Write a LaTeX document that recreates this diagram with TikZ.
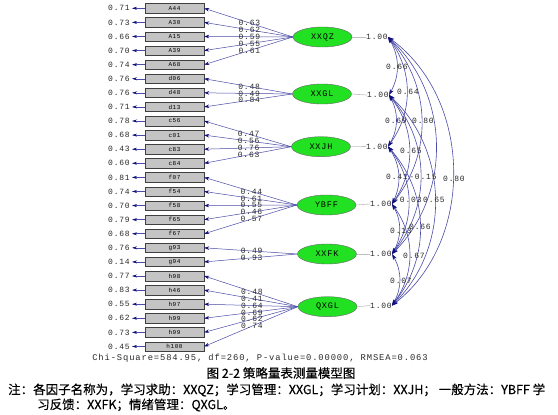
\documentclass[tikz,border=0pt]{standalone}
\usepackage{fontspec}
\newfontfamily\numfont[LetterSpace=10]{Liberation Mono}
\newfontfamily\cjkfont[FakeBold=0.3]{Noto Sans CJK SC}
\usetikzlibrary{arrows.meta,shapes.geometric}
\definecolor{linecol}{HTML}{4A4AA8}
\definecolor{headcol}{HTML}{101080}
\definecolor{txtcol}{HTML}{2A2A2A}
\definecolor{boxfill}{HTML}{C4C4C4}
\definecolor{ellfill}{HTML}{22E022}
\begin{document}
\begin{tikzpicture}[x=1pt,y=-1pt,
  obsbox/.style={draw=black!75, fill=boxfill, minimum width=59pt, minimum height=9.5pt, inner sep=0pt, font=\numfont\fontsize{6}{6}\selectfont},
  latent/.style={ellipse, draw=black!60, fill=ellfill, minimum width=59pt, minimum height=20pt, inner sep=0pt, font=\numfont\fontsize{8.5}{9}\selectfont},
  num/.style={text=txtcol, inner sep=0pt, font=\numfont\fontsize{8}{9}\selectfont},
  errarrow/.style={draw=linecol, line width=0.5pt, shorten >=2pt, -{Stealth[length=5pt,width=3pt,color=headcol]}},
  load/.style={draw=linecol, line width=0.5pt, -{Stealth[length=5pt,width=3.5pt,color=headcol]}},
  varline/.style={draw=gray!50, line width=0.6pt},
  cov/.style={draw=linecol, line width=0.6pt, >={Stealth[length=6pt,width=4pt,color=headcol]}, <->},
]
\useasboundingbox[fill=white] (0,0) rectangle (558,415);

% observed variables and error variances
\foreach \lab/\err [count=\i from 0] in {A44/0.71,A30/0.73,A15/0.66,A39/0.70,A68/0.74,d06/0.76,d48/0.76,d13/0.71,c56/0.78,c01/0.68,c83/0.43,c84/0.60,f07/0.81,f54/0.74,f58/0.70,f65/0.79,f67/0.68,g93/0.76,g94/0.14,h98/0.77,h46/0.83,h97/0.55,h99/0.62,h99/0.73,h100/0.45} {
  \pgfmathsetmacro\yy{8.3+14.09*\i}
  \node[obsbox] (b\i) at (174.5,\yy) {\lab};
  \node[num] (e\i) at (119,\yy) {\err};
  \draw[errarrow] (b\i.west) -- (e\i.east);
}

% latent variables
\node[latent] (QZ) at (322.5,37) {XXQZ};
\node[latent] (GL) at (322,94) {XXGL};
\node[latent] (JH) at (321,146.7) {XXJH};
\node[latent] (BF) at (326.5,205) {YBFF};
\node[latent] (FK) at (327,254) {XXFK};
\node[latent] (QX) at (327.5,306.7) {QXGL};

% loadings
\foreach \k/\v in {0/0.63,1/0.62,2/0.59,3/0.55,4/0.61}
  \draw[load] (QZ.west) -- node[num,pos=0.49]{\v} (b\k.east);
\foreach \k/\v in {5/0.48,6/0.49,7/0.84}
  \draw[load] (GL.west) -- node[num,pos=0.49]{\v} (b\k.east);
\foreach \k/\v in {8/0.47,9/0.56,10/0.76,11/0.63}
  \draw[load] (JH.west) -- node[num,pos=0.49]{\v} (b\k.east);
\foreach \k/\v in {12/0.44,13/0.61,14/0.55,15/0.46,16/0.57}
  \draw[load] (BF.west) -- node[num,pos=0.49]{\v} (b\k.east);
\foreach \k/\v in {17/0.49,18/0.93}
  \draw[load] (FK.west) -- node[num,pos=0.49]{\v} (b\k.east);
\foreach \k/\v in {19/0.48,20/0.41,21/0.64,22/0.69,23/0.62,24/0.74}
  \draw[load] (QX.west) -- node[num,pos=0.49]{\v} (b\k.east);

% factor variances
\node[num] (vQZ) at (377,37) {1.00};
\node[num] (vGL) at (378,95) {1.00};
\node[num] (vJH) at (377,146.5) {1.00};
\node[num] (vBF) at (381,204) {1.00};
\node[num] (vFK) at (381,254) {1.00};
\node[num] (vQX) at (381,305.5) {1.00};
\foreach \f in {QZ,GL,JH,BF,FK,QX}
  \draw[varline] (\f.east) -- (v\f.west);

% covariances
\draw[cov] (vQZ.east) to[bend left=30] (vGL.east);
\draw[cov] (vGL.east) to[bend left=30] (vJH.east);
\draw[cov] (vJH.east) to[bend left=30] (vBF.east);
\draw[cov] (vBF.east) to[bend left=30] (vFK.east);
\draw[cov] (vFK.east) to[bend left=30] (vQX.east);
\draw[cov] (vQZ.east) to[bend left=36] (vJH.east);
\draw[cov] (vGL.east) to[bend left=36] (vBF.east);
\draw[cov] (vJH.east) to[bend left=36] (vFK.east);
\draw[cov] (vBF.east) to[bend left=36] (vQX.east);
\draw[cov] (vQZ.east) to[bend left=40] (vBF.east);
\draw[cov] (vGL.east) to[bend left=40] (vFK.east);
\draw[cov] (vJH.east) to[bend left=40] (vQX.east);
\draw[cov] (vQZ.east) to[bend left=46] (vFK.east);
\draw[cov] (vGL.east) to[bend left=46] (vQX.east);
\draw[cov] (vQZ.east) to[bend left=53] (vQX.east);

% covariance values
\node[num] (c1) at (397,67) {0.66};
\node[num] (c2) at (408,92) {0.64};
\node[num] (c3) at (396,121) {0.69};
\node[num] (c4) at (423,121) {0.80};
\node[num] (c5) at (411,151) {0.65};
\node[num] (c6) at (397,177) {0.41};
\node[num] (c7) at (423,177) {-0.15};
\node[num] (c8) at (454,179) {0.80};
\node[num] (c9) at (408,200) {-0.03};
\node[num] (c10) at (434,200) {0.65};
\node[num] (c11) at (401,231) {0.13};
\node[num] (c12) at (420,227) {0.66};
\node[num] (c13) at (414,256) {0.67};
\node[num] (c14) at (401,281) {0.07};

% fit statistics and caption
\node[num, font=\numfont\fontsize{8.8}{9}\selectfont] (chi) at (260,358) {Chi-Square=584.95, df=260, P-value=0.00000, RMSEA=0.063};
\node[inner sep=0pt, font=\cjkfont\fontsize{12.5}{14}\selectfont] (cap) at (281,373) {图 2-2 策略量表测量模型图};
\node[anchor=west, inner sep=0pt, font=\cjkfont\fontsize{12.5}{14}\selectfont] (n1) at (8,390) {注：各因子名称为，学习求助：XXQZ；学习管理：XXGL；学习计划：XXJH； 一般方法：YBFF 学};
\node[anchor=west, inner sep=0pt, font=\cjkfont\fontsize{12.5}{14}\selectfont] (n2) at (37,405) {习反馈：XXFK；情绪管理：QXGL。};
\end{tikzpicture}
\end{document}
